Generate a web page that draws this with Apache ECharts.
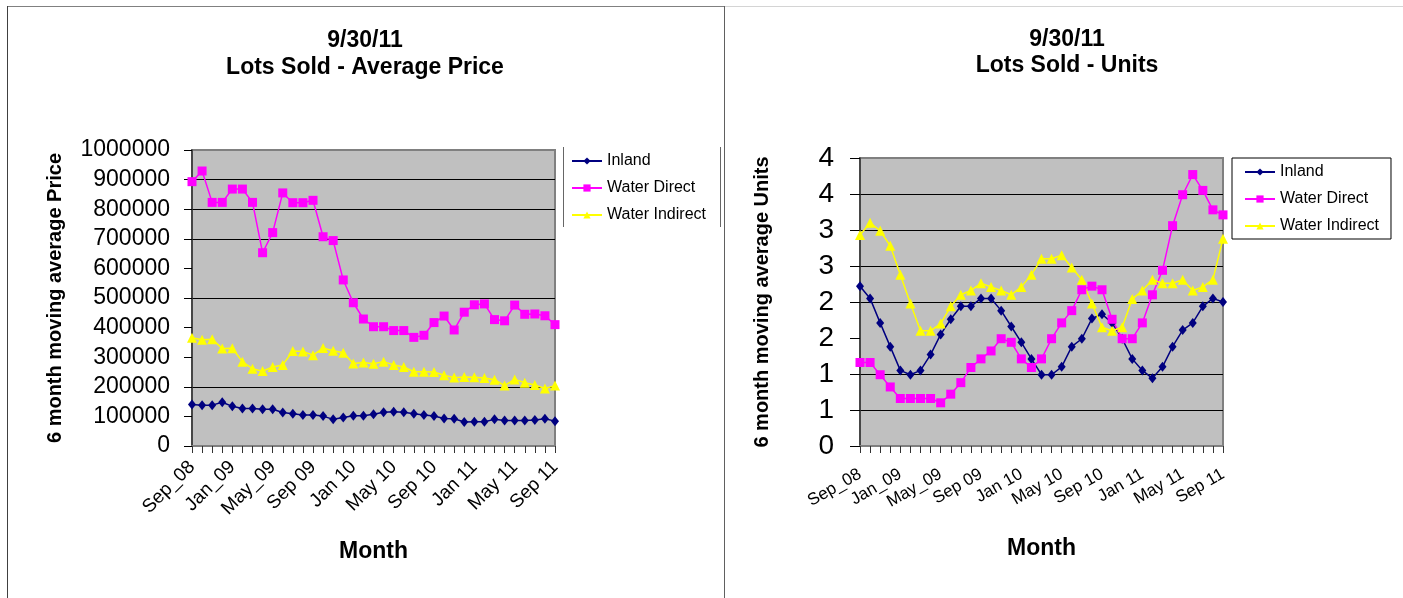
<!DOCTYPE html>
<html>
<head>
<meta charset="utf-8">
<script src="https://cdn.jsdelivr.net/npm/echarts@6/dist/echarts.min.js"></script>
<style>
html,body{margin:0;padding:0;background:#fff;}
#chart{width:1403px;height:598px;}
</style>
</head>
<body>
<div id="chart"></div>
<script>
const months = ['Sep_08','Oct_08','Nov_08','Dec_08','Jan_09','Feb_09','Mar_09','Apr_09','May_09','Jun_09','Jul_09','Aug_09',
  'Sep 09','Oct 09','Nov 09','Dec 09','Jan 10','Feb 10','Mar 10','Apr 10','May 10','Jun 10','Jul 10','Aug 10',
  'Sep 10','Oct 10','Nov 10','Dec 10','Jan 11','Feb 11','Mar 11','Apr 11','May 11','Jun 11','Jul 11','Aug 11','Sep 11'];
const seriesNames = ['Inland', 'Water Direct', 'Water Indirect'];

const priceInland = [140000,138000,138000,148000,134000,127000,127000,124000,124000,113000,109000,105000,105000,101000,90000,96000,102000,102000,107000,114000,116000,114000,109000,105000,101000,93000,92000,81000,82000,82000,90000,86000,86000,86000,88000,92000,84000];
const priceWaterDirect = [893000,929000,823000,823000,868000,868000,823000,653000,721000,855000,822000,822000,830000,707000,694000,561000,484000,429000,403000,403000,390000,390000,367000,374000,417000,439000,392000,452000,477000,480000,427000,423000,476000,445000,446000,440000,410000];
const priceWaterIndirect = [366000,359000,361000,329000,330000,285000,261000,253000,267000,274000,321000,319000,307000,331000,322000,315000,279000,282000,278000,285000,274000,267000,251000,251000,250000,239000,231000,233000,232000,230000,224000,204000,225000,214000,206000,194000,204000];

const unitsInland = [2.22,2.05,1.71,1.38,1.05,0.99,1.05,1.27,1.55,1.76,1.94,1.94,2.05,2.05,1.88,1.66,1.44,1.21,0.99,0.99,1.10,1.38,1.49,1.77,1.83,1.71,1.49,1.21,1.05,0.94,1.10,1.38,1.61,1.71,1.94,2.05,2.00];
const unitsWaterDirect = [1.16,1.16,0.99,0.82,0.66,0.66,0.66,0.66,0.60,0.72,0.88,1.09,1.21,1.32,1.49,1.44,1.21,1.09,1.21,1.49,1.71,1.88,2.17,2.22,2.17,1.76,1.49,1.49,1.71,2.10,2.44,3.06,3.49,3.77,3.55,3.28,3.21];
const unitsWaterIndirect = [2.93,3.10,2.99,2.78,2.38,1.98,1.60,1.60,1.70,1.94,2.10,2.16,2.26,2.21,2.16,2.10,2.21,2.38,2.60,2.60,2.65,2.48,2.31,1.98,1.65,1.60,1.65,2.04,2.16,2.31,2.26,2.26,2.31,2.16,2.21,2.31,2.88];

const priceTicks = {min: 0, max: 1000000, interval: 100000};
const unitTicks = {min: 0, max: 4, interval: 0.5};

const FONT = '"Liberation Sans", Arial, sans-serif';
const T = 'rgba(0,0,0,0)';

const styles = [
  {color: '#000080', symbol: 'diamond', symbolSize: [8, 10]},
  {color: '#FF00FF', symbol: 'rect', symbolSize: 9},
  {color: '#FFFF00', symbol: 'triangle', symbolSize: 10}
];

function mkSeries(name, data, idx, st) {
  return {
    name: name, type: 'line', data: data,
    xAxisIndex: idx, yAxisIndex: idx,
    symbol: st.symbol, symbolSize: st.symbolSize,
    showAllSymbol: true,
    color: st.color,
    lineStyle: {color: st.color, width: 1.5},
    itemStyle: {color: st.color, borderWidth: 0},
    emphasis: {disabled: true},
    animation: false
  };
}

function xAxisCfg(gridIndex, fontSize, rotate, margin, nameGap) {
  return {
    type: 'category', gridIndex: gridIndex, data: months, boundaryGap: false,
    name: 'Month', nameLocation: 'middle', nameGap: nameGap,
    nameTextStyle: {fontFamily: FONT, fontSize: 23, fontWeight: 'bold', color: '#000'},
    axisLine: {show: true, lineStyle: {color: '#808080', width: 2}},
    axisTick: {show: true, interval: 0, length: 7, lineStyle: {color: '#333', width: 1}},
    axisLabel: {interval: 3, rotate: rotate, margin: margin, fontFamily: FONT, fontSize: fontSize, color: '#000'},
    splitLine: {show: false}
  };
}

const chart = echarts.init(document.getElementById('chart'), null, {renderer: 'canvas'});
chart.setOption({
  backgroundColor: '#fff',
  animation: false,
  title: [
    {text: '9/30/11\nLots Sold - Average Price', left: 360, top: 22, textAlign: 'center',
     textStyle: {fontFamily: FONT, fontSize: 23, fontWeight: 'bold', color: '#000', lineHeight: 27}},
    {text: '9/30/11\nLots Sold - Units', left: 1062, top: 22, textAlign: 'center',
     textStyle: {fontFamily: FONT, fontSize: 23, fontWeight: 'bold', color: '#000', lineHeight: 26}}
  ],
  legend: [
    {data: seriesNames, orient: 'vertical', left: 567, top: 153, itemWidth: 30, itemHeight: 9, itemGap: 11,
     textStyle: {fontFamily: FONT, fontSize: 16, color: '#000'}, padding: [0, 0, 0, 4]},
    {data: seriesNames, orient: 'vertical', left: 1232, top: 158, itemWidth: 30, itemHeight: 9, itemGap: 11,
     borderColor: '#000', borderWidth: 1, borderRadius: 0, padding: [6, 12, 5, 12],
     textStyle: {fontFamily: FONT, fontSize: 16, color: '#000'}}
  ],
  grid: [
    {left: 192, top: 150, width: 363, height: 296, show: true, backgroundColor: '#C0C0C0', borderColor: '#808080', borderWidth: 2},
    {left: 860, top: 158, width: 363, height: 288, show: true, backgroundColor: '#C0C0C0', borderColor: '#808080', borderWidth: 2}
  ],
  xAxis: [
    xAxisCfg(0, 19, 45, 18, 94),
    xAxisCfg(1, 17, 30, 27, 91)
  ],
  yAxis: [
    {type: 'value', gridIndex: 0, min: priceTicks.min, max: priceTicks.max, interval: priceTicks.interval,
     name: '6 month moving average Price', nameLocation: 'middle', nameGap: 127,
     nameTextStyle: {fontFamily: FONT, fontSize: 20, fontWeight: 'bold', color: '#000'},
     axisLine: {show: true, lineStyle: {color: '#333', width: 1.5}},
     axisTick: {show: true, length: 8, lineStyle: {color: '#000'}},
     axisLabel: {fontFamily: FONT, fontSize: 23, color: '#000', margin: 22,
       formatter: function (v) { return String(v); }},
     splitLine: {show: true, lineStyle: {width: 1, color: [T, T, '#000', T, T, '#000', T, '#000', '#000', '#000', T]}}},
    {type: 'value', gridIndex: 1, min: unitTicks.min, max: unitTicks.max, interval: unitTicks.interval,
     name: '6 month moving average Units', nameLocation: 'middle', nameGap: 88,
     nameTextStyle: {fontFamily: FONT, fontSize: 20, fontWeight: 'bold', color: '#000'},
     axisLine: {show: true, lineStyle: {color: '#333', width: 1.5}},
     axisTick: {show: true, length: 10, lineStyle: {color: '#000'}},
     axisLabel: {fontFamily: FONT, fontSize: 28, color: '#000', margin: 26,
       formatter: function (v) { return String(Math.round(v)); }},
     splitLine: {show: true, lineStyle: {width: 1, color: [T, '#000', '#000', T, '#000', '#000', '#000', '#000', T]}}}
  ],
  series: [
    mkSeries(seriesNames[0], priceInland, 0, styles[0]),
    mkSeries(seriesNames[1], priceWaterDirect, 0, styles[1]),
    mkSeries(seriesNames[2], priceWaterIndirect, 0, styles[2]),
    mkSeries(seriesNames[0], unitsInland, 1, styles[0]),
    mkSeries(seriesNames[1], unitsWaterDirect, 1, styles[1]),
    mkSeries(seriesNames[2], unitsWaterIndirect, 1, styles[2])
  ],
  graphic: [
    {type: 'line', silent: true, shape: {x1: 7, y1: 6.5, x2: 725, y2: 6.5}, style: {stroke: '#808080', lineWidth: 1}},
    {type: 'line', silent: true, shape: {x1: 725, y1: 6.5, x2: 1403, y2: 6.5}, style: {stroke: '#d4d4d4', lineWidth: 1}},
    {type: 'line', silent: true, shape: {x1: 7.5, y1: 6, x2: 7.5, y2: 598}, style: {stroke: '#404040', lineWidth: 1}},
    {type: 'line', silent: true, shape: {x1: 724.5, y1: 6, x2: 724.5, y2: 598}, style: {stroke: '#606060', lineWidth: 1}},
    {type: 'line', silent: true, shape: {x1: 563.5, y1: 147, x2: 563.5, y2: 227}, style: {stroke: '#666', lineWidth: 1}},
    {type: 'line', silent: true, shape: {x1: 720.5, y1: 147, x2: 720.5, y2: 227}, style: {stroke: '#666', lineWidth: 1}}
  ]
});
</script>
</body>
</html>
